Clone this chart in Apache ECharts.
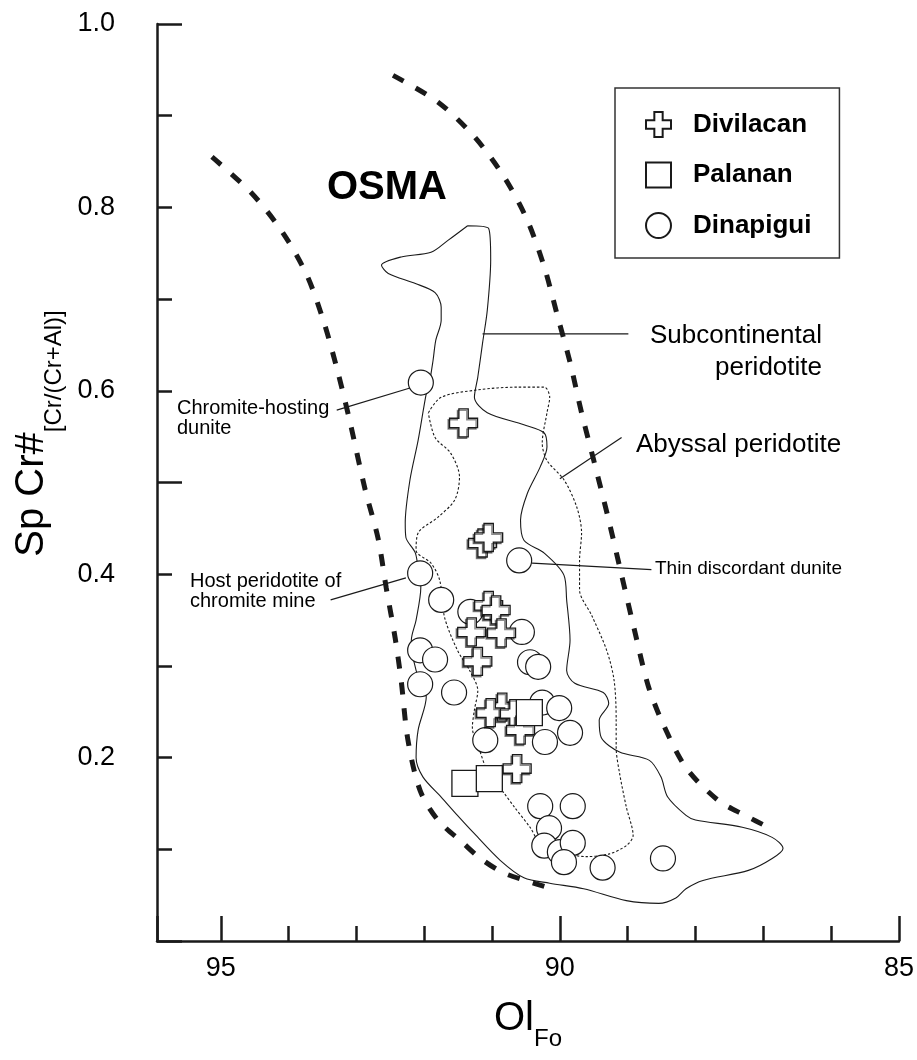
<!DOCTYPE html>
<html>
<head>
<meta charset="utf-8">
<title>Sp Cr# vs Ol Fo</title>
<script src="https://cdn.jsdelivr.net/npm/echarts@6/dist/echarts.min.js"></script>
<style>
  html, body { margin: 0; padding: 0; background: #fff; }
  #chart { width: 917px; height: 1060px; }
</style>
</head>
<body>
<div id="chart"></div>
<script>
// point data [Ol Fo, Sp Cr#]
var divilacan = [[91.42, 0.565], [91.14, 0.434], [91.05, 0.440], [91.05, 0.366], [90.94, 0.361],
  [91.30, 0.337], [90.86, 0.336], [91.21, 0.305], [90.85, 0.255], [91.02, 0.249],
  [90.67, 0.248], [90.58, 0.230], [90.63, 0.188]];
var palanan = [[90.45, 0.249], [91.40, 0.172], [91.04, 0.177]];
var dinapigui = [[92.05, 0.609], [92.06, 0.401], [90.60, 0.415], [91.75, 0.372], [92.06, 0.317],
  [91.84, 0.307], [92.06, 0.280], [91.56, 0.271], [91.32, 0.359], [90.56, 0.337],
  [90.44, 0.304], [90.32, 0.299], [90.26, 0.260], [90.01, 0.254], [89.85, 0.227],
  [90.22, 0.217], [91.10, 0.219], [90.29, 0.147], [89.81, 0.147], [90.16, 0.123],
  [90.23, 0.104], [90.00, 0.097], [89.81, 0.107], [89.94, 0.086], [89.37, 0.080],
  [88.48, 0.090]];

// OSMA boundaries (thick dashed)
var osmaLeft = [[95.13, 0.855], [94.55, 0.816], [94.09, 0.773], [93.73, 0.726], [93.48, 0.675],
  [93.29, 0.625], [93.11, 0.571], [92.87, 0.492], [92.68, 0.439], [92.56, 0.385],
  [92.43, 0.331], [92.34, 0.284], [92.24, 0.219], [92.06, 0.164], [91.80, 0.132],
  [91.43, 0.107], [91.17, 0.090], [90.85, 0.075], [90.51, 0.066], [90.12, 0.057]];
var osmaRight = [[92.46, 0.944], [91.80, 0.915], [91.26, 0.877], [90.82, 0.833], [90.48, 0.786],
  [90.23, 0.735], [90.04, 0.683], [89.85, 0.631], [89.68, 0.576], [89.50, 0.524],
  [89.28, 0.459], [89.09, 0.399], [88.90, 0.339], [88.70, 0.279], [88.48, 0.237],
  [88.14, 0.189], [87.66, 0.153], [87.27, 0.137], [86.90, 0.123]];

// subcontinental peridotite field (solid)
var subcont = [[91.36, 0.780], [91.65, 0.764], [91.90, 0.751], [92.34, 0.746], [92.63, 0.737],
  [92.53, 0.728], [92.13, 0.717], [91.84, 0.707], [91.75, 0.691], [91.75, 0.677],
  [91.83, 0.655], [91.87, 0.633], [91.93, 0.606], [91.97, 0.597], [92.09, 0.546],
  [92.21, 0.503], [92.28, 0.456], [92.27, 0.440], [92.13, 0.423], [92.08, 0.399],
  [92.05, 0.386], [92.12, 0.350], [92.19, 0.328], [92.12, 0.295], [91.97, 0.266],
  [92.09, 0.230], [92.12, 0.200], [92.02, 0.179], [91.75, 0.157], [91.51, 0.137],
  [91.26, 0.117], [90.88, 0.088], [90.53, 0.069], [90.15, 0.063], [89.65, 0.057],
  [89.02, 0.044], [88.54, 0.041], [88.29, 0.047], [88.14, 0.057], [87.89, 0.066],
  [87.22, 0.077], [86.87, 0.090], [86.71, 0.101], [86.87, 0.113], [87.31, 0.124],
  [88.00, 0.132], [88.14, 0.137], [88.41, 0.157], [88.51, 0.179], [88.68, 0.197],
  [89.12, 0.206], [89.39, 0.222], [89.42, 0.241], [89.28, 0.259], [89.36, 0.271],
  [89.78, 0.281], [89.90, 0.295], [89.85, 0.328], [89.90, 0.372], [89.94, 0.399],
  [90.23, 0.423], [90.53, 0.437], [90.58, 0.459], [90.48, 0.488], [90.29, 0.517],
  [90.19, 0.539], [90.23, 0.554], [90.53, 0.563], [91.07, 0.576], [91.26, 0.593],
  [91.21, 0.615], [91.14, 0.652], [91.07, 0.688], [91.02, 0.743], [91.05, 0.777],
  [91.36, 0.780]];

// abyssal peridotite field (dotted)
var abyssal = [[91.94, 0.576], [91.75, 0.593], [91.21, 0.601], [90.63, 0.604], [90.23, 0.604],
  [90.15, 0.593], [90.19, 0.576], [90.26, 0.543], [90.19, 0.524], [89.94, 0.503],
  [89.75, 0.473], [89.68, 0.445], [89.71, 0.415], [89.71, 0.383], [89.53, 0.355],
  [89.31, 0.317], [89.20, 0.284], [89.17, 0.241], [89.17, 0.211], [89.12, 0.183],
  [89.02, 0.146], [88.92, 0.115], [89.02, 0.104], [89.27, 0.095], [89.61, 0.092],
  [89.94, 0.096], [90.29, 0.107], [90.44, 0.124], [90.67, 0.146], [90.82, 0.161],
  [91.07, 0.186], [91.17, 0.205], [91.29, 0.233], [91.26, 0.252], [91.21, 0.273],
  [91.33, 0.295], [91.51, 0.317], [91.70, 0.353], [91.77, 0.393], [91.90, 0.412],
  [92.12, 0.426], [92.09, 0.445], [91.80, 0.462], [91.55, 0.481], [91.48, 0.506],
  [91.61, 0.532], [91.84, 0.549], [91.94, 0.576]];

// leader lines for the annotations
var leaders = [
  [[93.29, 0.579], [92.21, 0.603]],
  [[93.38, 0.372], [92.27, 0.396]],
  [[91.14, 0.662], [88.99, 0.662]],
  [[90.00, 0.504], [89.09, 0.549]],
  [[90.41, 0.412], [88.65, 0.405]]
];

var font = "'Liberation Sans', Arial, Helvetica, sans-serif";
var ink = '#1a1a1a';
var crossPath = 'path://M1,0H2V1H3V2H2V3H1V2H0V1H1Z';

var chart = echarts.init(document.getElementById('chart'));

function outline(data, width, type) {
  return {
    type: 'line', data: data, showSymbol: false, smooth: 0.3, silent: true,
    lineStyle: { color: ink, width: width, type: type, cap: 'butt' }, z: 2
  };
}

var series = [
  outline(osmaLeft, 5, [12, 14]),
  outline(osmaRight, 5, [12, 14]),
  outline(subcont, 1.1, 'solid'),
  outline(abyssal, 1.1, [2.5, 2])
];
leaders.forEach(function (l) {
  series.push({
    type: 'line', data: l, showSymbol: false, silent: true,
    lineStyle: { color: ink, width: 1.2 }, z: 2
  });
});
series.push(
  {
    name: 'Dinapigui', type: 'scatter', data: dinapigui, symbol: 'circle', symbolSize: 25,
    itemStyle: { color: '#fff', borderColor: ink, borderWidth: 1.2, opacity: 1 }, z: 3
  },
  {
    name: 'Divilacan', type: 'scatter', data: divilacan, symbol: crossPath, symbolSize: 28,
    itemStyle: {
      color: '#fff', borderColor: ink, borderWidth: 1.3, opacity: 1,
      shadowColor: 'rgba(0,0,0,0.45)', shadowOffsetX: -1.5, shadowOffsetY: 1.5, shadowBlur: 0
    }, z: 4
  },
  {
    name: 'Palanan', type: 'scatter', data: palanan, symbol: 'rect', symbolSize: 26,
    itemStyle: { color: '#fff', borderColor: ink, borderWidth: 1.3, opacity: 1 }, z: 5
  }
);

var axisLine = { show: true, onZero: false, lineStyle: { color: ink, width: 2.5 } };

var option = {
  animation: false,
  backgroundColor: '#fff',
  grid: { left: 157, right: 12, top: 24, bottom: 119 },
  xAxis: [
    {
      type: 'value', min: 85, max: 95.94, interval: 1, inverse: true,
      axisLine: axisLine,
      axisTick: { show: true, inside: true, length: 15, lineStyle: { color: ink, width: 2.5 } },
      axisLabel: {
        fontSize: 27, fontFamily: font, color: '#000', margin: 14,
        formatter: function (v) {
          return Math.abs(v / 5 - Math.round(v / 5)) < 1e-6 ? String(Math.round(v)) : '';
        }
      },
      splitLine: { show: false },
      name: '{a|Ol}{b|Fo}', nameLocation: 'middle', nameGap: 58,
      nameTextStyle: {
        rich: {
          a: { fontSize: 40, lineHeight: 40, fontFamily: font, color: '#000', verticalAlign: 'top' },
          b: { fontSize: 24, lineHeight: 24, fontFamily: font, color: '#000', verticalAlign: 'top', padding: [28, 0, 0, 0] }
        }
      }
    },
    {
      // longer ticks every 5 units
      type: 'value', min: 85, max: 95.94, interval: 5, inverse: true, position: 'bottom',
      axisLine: { show: false },
      axisTick: { show: true, inside: true, length: 25, lineStyle: { color: ink, width: 2.5 } },
      axisLabel: { show: false },
      splitLine: { show: false }
    }
  ],
  yAxis: [
    {
      type: 'value', min: 0, max: 1, interval: 0.1,
      axisLine: axisLine,
      axisTick: { show: true, inside: true, length: 15, lineStyle: { color: ink, width: 2.5 } },
      axisLabel: {
        fontSize: 27, fontFamily: font, color: '#000', margin: 42,
        formatter: function (v) {
          var t = Math.round(v * 10);
          return (t > 0 && t % 2 === 0) ? (t / 10).toFixed(1) : '';
        }
      },
      splitLine: { show: false },
      name: '{a|Sp Cr#}{b|[Cr/(Cr+Al)]}', nameLocation: 'middle', nameGap: 95,
      nameTextStyle: {
        padding: [0, 0, 0, 98],
        rich: {
          a: { fontSize: 40, lineHeight: 40, fontFamily: font, color: '#000', verticalAlign: 'top' },
          b: { fontSize: 24, lineHeight: 24, fontFamily: font, color: '#000', verticalAlign: 'top', padding: [31, 0, 0, 0] }
        }
      }
    },
    {
      // longer ticks every 0.5
      type: 'value', min: 0, max: 1, interval: 0.5, position: 'left',
      axisLine: { show: false },
      axisTick: { show: true, inside: true, length: 25, lineStyle: { color: ink, width: 2.5 } },
      axisLabel: { show: false },
      splitLine: { show: false }
    }
  ],
  legend: {
    orient: 'vertical', left: 615, top: 88,
    padding: [23, 28, 19, 30], itemGap: 23.5, itemWidth: 25, itemHeight: 25,
    borderColor: '#333', borderWidth: 1.5, backgroundColor: '#fff',
    textStyle: { fontSize: 26, fontWeight: 'bold', fontFamily: font, color: '#000', padding: [0, 0, 0, 17] },
    data: [
      { name: 'Divilacan', icon: crossPath },
      { name: 'Palanan', icon: 'rect' },
      { name: 'Dinapigui', icon: 'circle' }
    ]
  },
  graphic: [
    { type: 'text', x: 327, y: 188, style: { text: 'OSMA', font: 'bold 40px ' + font, fill: '#000', textAlign: 'left', textVerticalAlign: 'middle' } },
    { type: 'text', x: 822, y: 320, style: { text: 'Subcontinental\nperidotite', font: '26px ' + font, lineHeight: 32, fill: '#000', textAlign: 'right', textVerticalAlign: 'top' } },
    { type: 'text', x: 636, y: 445, style: { text: 'Abyssal peridotite', font: '26px ' + font, fill: '#000', textAlign: 'left', textVerticalAlign: 'middle' } },
    { type: 'text', x: 655, y: 569, style: { text: 'Thin discordant dunite', font: '19px ' + font, fill: '#000', textAlign: 'left', textVerticalAlign: 'middle' } },
    { type: 'text', x: 177, y: 398, style: { text: 'Chromite-hosting\ndunite', font: '20px ' + font, lineHeight: 20, fill: '#000', textAlign: 'left', textVerticalAlign: 'top' } },
    { type: 'text', x: 190, y: 571, style: { text: 'Host peridotite of\nchromite mine', font: '20px ' + font, lineHeight: 20, fill: '#000', textAlign: 'left', textVerticalAlign: 'top' } }
  ],
  series: series
};

chart.setOption(option);
</script>
</body>
</html>
